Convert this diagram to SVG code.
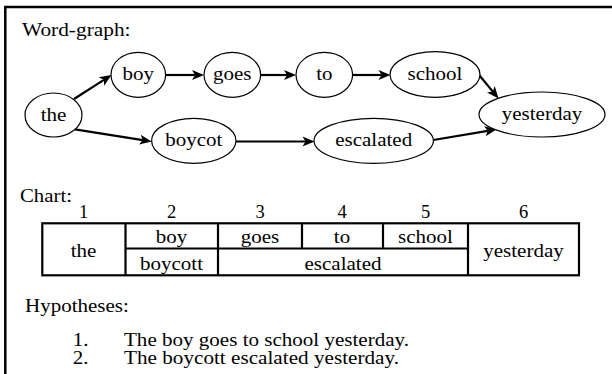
<svg xmlns="http://www.w3.org/2000/svg" width="612" height="374" viewBox="0 0 612 374">
<path d="M5.3,374V7H612" fill="none" stroke="#000" stroke-width="2.5"/>
<text x="22" y="35.5" font-family="Liberation Serif, serif" font-size="18.5" textLength="108.5" lengthAdjust="spacingAndGlyphs">Word-graph:</text>
<g id="connectors">
<g stroke="#000" stroke-width="2.2" fill="none">
<line x1="74" y1="99" x2="103.9" y2="79.9"/>
<line x1="165.7" y1="75" x2="195" y2="75"/>
<line x1="260.7" y1="75" x2="287" y2="75"/>
<line x1="352.7" y1="75" x2="381.5" y2="75"/>
<line x1="478.3" y1="74" x2="492.8" y2="91.6"/>
<line x1="75" y1="129.3" x2="142.8" y2="140.1"/>
<line x1="236" y1="141.5" x2="305.5" y2="141.5"/>
<line x1="433.3" y1="140" x2="487.8" y2="130.8"/>
</g>
<g fill="#000">
<polygon points="111.5,75 104.09,85.68 103.92,79.85 98.69,77.26"/>
<polygon points="204,75 192,80 195,75 192,70"/>
<polygon points="296,75 284,80 287,75 284,70"/>
<polygon points="390.5,75 378.5,80 381.5,75 378.5,70"/>
<polygon points="498.5,98.5 487.01,92.42 492.77,91.56 494.73,86.06"/>
<polygon points="151.7,141.5 139.06,144.55 142.81,140.09 140.64,134.67"/>
<polygon points="314.5,141.5 302.5,146.5 305.5,141.5 302.5,136.5"/>
<polygon points="496.7,129.3 485.70,136.23 487.83,130.80 484.04,126.37"/>
</g>
</g>
<g id="nodes" fill="#fff" stroke="#000" stroke-width="1.2" text-anchor="middle">
<g id="n-the"><ellipse cx="53.5" cy="115" rx="28.5" ry="22"/><text x="53.5" y="120.5" fill="#000" stroke="none" font-family="Liberation Serif, serif" font-size="18.5" textLength="25.7" lengthAdjust="spacingAndGlyphs">the</text></g>
<g id="n-boy"><ellipse cx="138.3" cy="74.8" rx="27.3" ry="22.5"/><text x="138.3" y="80.3" fill="#000" stroke="none" font-family="Liberation Serif, serif" font-size="18.5" textLength="31.5" lengthAdjust="spacingAndGlyphs">boy</text></g>
<g id="n-goes"><ellipse cx="232.3" cy="74.8" rx="28.3" ry="22.5"/><text x="232.3" y="80.3" fill="#000" stroke="none" font-family="Liberation Serif, serif" font-size="18.5" textLength="38.5" lengthAdjust="spacingAndGlyphs">goes</text></g>
<g id="n-to"><ellipse cx="324.3" cy="74.8" rx="28.3" ry="22.5"/><text x="324.3" y="80.3" fill="#000" stroke="none" font-family="Liberation Serif, serif" font-size="18.5" textLength="16.3" lengthAdjust="spacingAndGlyphs">to</text></g>
<g id="n-school"><ellipse cx="435" cy="74.5" rx="45" ry="22.8"/><text x="435" y="80" fill="#000" stroke="none" font-family="Liberation Serif, serif" font-size="18.5" textLength="54.8" lengthAdjust="spacingAndGlyphs">school</text></g>
<g id="n-yesterday"><ellipse cx="542" cy="114.5" rx="63" ry="22.5"/><text x="542" y="120" fill="#000" stroke="none" font-family="Liberation Serif, serif" font-size="18.5" textLength="80.5" lengthAdjust="spacingAndGlyphs">yesterday</text></g>
<g id="n-boycot"><ellipse cx="193.8" cy="140.8" rx="42.2" ry="22.5"/><text x="193.8" y="146.3" fill="#000" stroke="none" font-family="Liberation Serif, serif" font-size="18.5" textLength="57.2" lengthAdjust="spacingAndGlyphs">boycot</text></g>
<g id="n-escalated"><ellipse cx="373.7" cy="140.8" rx="59.7" ry="22.5"/><text x="373.7" y="146.3" fill="#000" stroke="none" font-family="Liberation Serif, serif" font-size="18.5" textLength="77" lengthAdjust="spacingAndGlyphs">escalated</text></g>
</g>
<g id="chart">
<text x="20" y="201.5" font-family="Liberation Serif, serif" font-size="18.5" textLength="52" lengthAdjust="spacingAndGlyphs">Chart:</text>
<g text-anchor="middle">
<text x="83.5" y="218" font-family="Liberation Serif, serif" font-size="18.5">1</text>
<text x="171.5" y="218" font-family="Liberation Serif, serif" font-size="18.5">2</text>
<text x="260" y="218" font-family="Liberation Serif, serif" font-size="18.5">3</text>
<text x="342" y="218" font-family="Liberation Serif, serif" font-size="18.5">4</text>
<text x="425.5" y="218" font-family="Liberation Serif, serif" font-size="18.5">5</text>
<text x="523.5" y="218" font-family="Liberation Serif, serif" font-size="18.5">6</text>
<text x="83.5" y="257.3" font-family="Liberation Serif, serif" font-size="18.5" textLength="25.7" lengthAdjust="spacingAndGlyphs">the</text>
<text x="171.5" y="243.3" font-family="Liberation Serif, serif" font-size="18.5" textLength="31.5" lengthAdjust="spacingAndGlyphs">boy</text>
<text x="260" y="243.3" font-family="Liberation Serif, serif" font-size="18.5" textLength="38.5" lengthAdjust="spacingAndGlyphs">goes</text>
<text x="342" y="243.3" font-family="Liberation Serif, serif" font-size="18.5" textLength="16.3" lengthAdjust="spacingAndGlyphs">to</text>
<text x="425.5" y="243.3" font-family="Liberation Serif, serif" font-size="18.5" textLength="54.8" lengthAdjust="spacingAndGlyphs">school</text>
<text x="523.5" y="257.3" font-family="Liberation Serif, serif" font-size="18.5" textLength="80.5" lengthAdjust="spacingAndGlyphs">yesterday</text>
<text x="171.5" y="269.5" font-family="Liberation Serif, serif" font-size="18.5" textLength="63" lengthAdjust="spacingAndGlyphs">boycott</text>
<text x="343" y="269.5" font-family="Liberation Serif, serif" font-size="18.5" textLength="77" lengthAdjust="spacingAndGlyphs">escalated</text>
</g>
<g stroke="#000" stroke-width="2.2" fill="none">
<rect x="42.3" y="223.3" width="536.7" height="52"/>
<path d="M125.5,223.3V275.3M218,223.3V275.3M302,223.3V248.5M383,223.3V248.5M468,223.3V275.3M125.5,248.5H468"/>
</g>
</g>
<g id="hypotheses">
<text x="25" y="311.5" font-family="Liberation Serif, serif" font-size="18.5" textLength="103.8" lengthAdjust="spacingAndGlyphs">Hypotheses:</text>
<text x="72.7" y="345.5" font-family="Liberation Serif, serif" font-size="18.5" textLength="15.7" lengthAdjust="spacingAndGlyphs">1.</text>
<text x="124" y="345.5" font-family="Liberation Serif, serif" font-size="18.5" textLength="285" lengthAdjust="spacingAndGlyphs">The boy goes to school yesterday.</text>
<text x="72.7" y="364" font-family="Liberation Serif, serif" font-size="18.5" textLength="15.7" lengthAdjust="spacingAndGlyphs">2.</text>
<text x="124" y="364" font-family="Liberation Serif, serif" font-size="18.5" textLength="275" lengthAdjust="spacingAndGlyphs">The boycott escalated yesterday.</text>
</g>
</svg>
